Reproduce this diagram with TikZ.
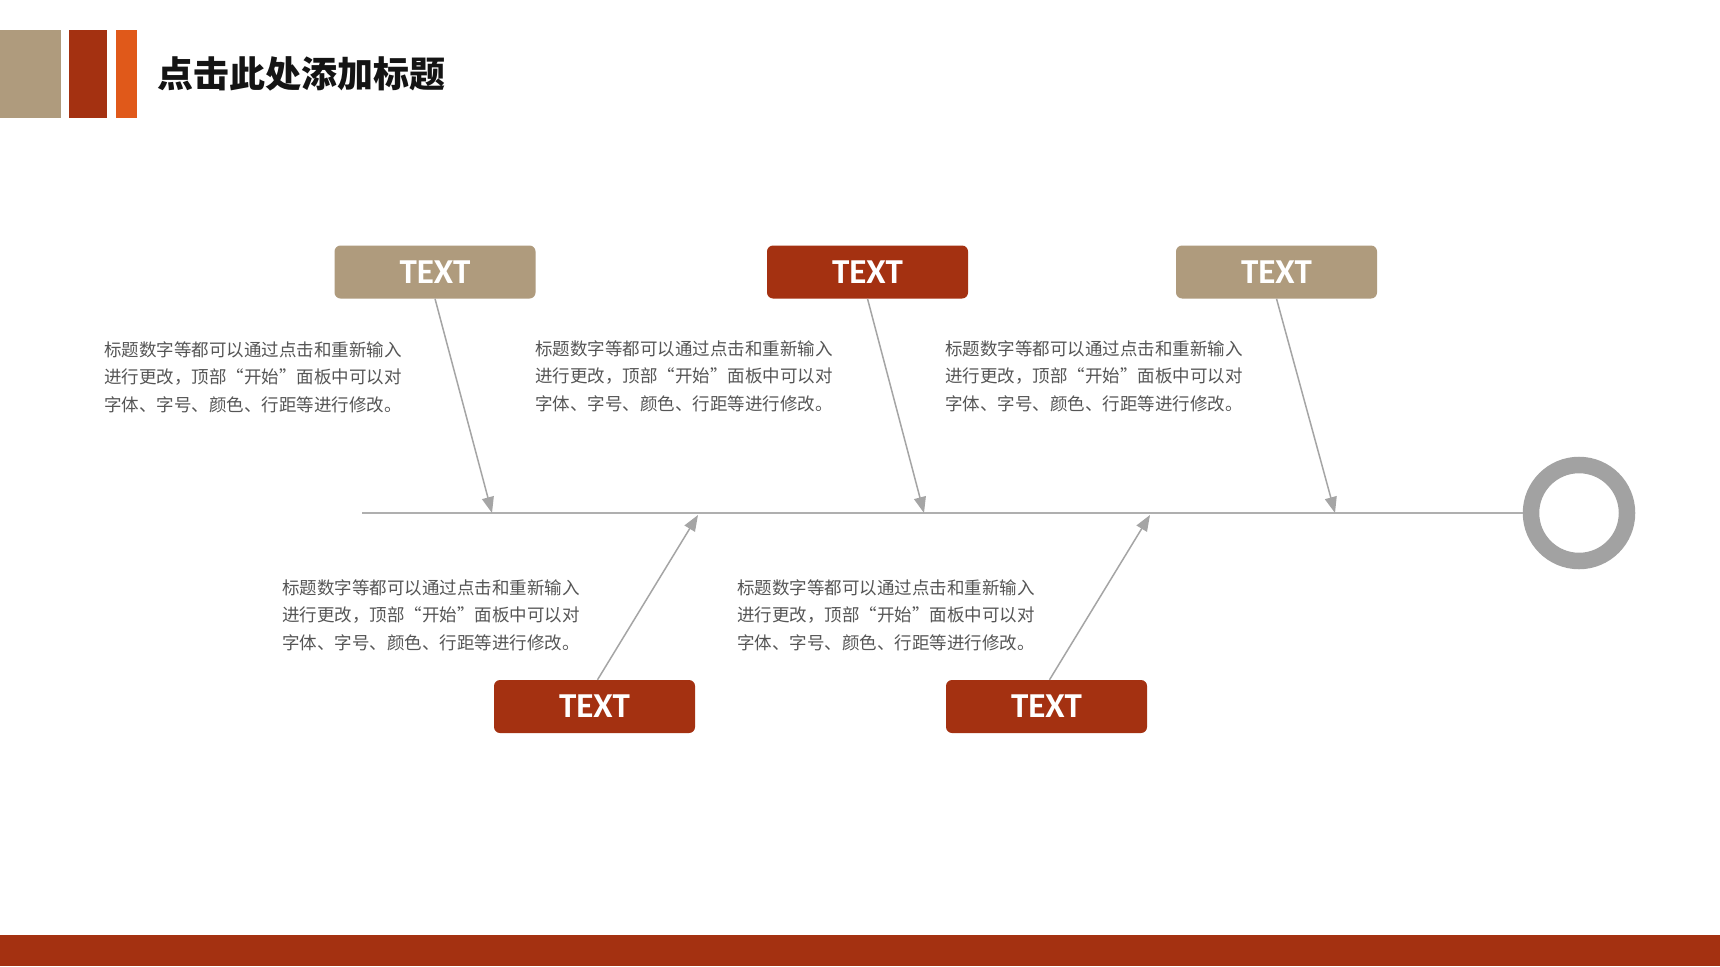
\documentclass[tikz,border=0pt]{standalone}
\usepackage{fontspec}
\newfontfamily\cjk{Noto Sans CJK SC}
\newfontfamily\labfont{Carlito}
\usetikzlibrary{arrows.meta}
\definecolor{mytan}{RGB}{175,155,125}
\definecolor{myred}{RGB}{164,49,17}
\definecolor{myorange}{RGB}{224,89,26}
\definecolor{spinegray}{RGB}{175,175,175}
\definecolor{arrowgray}{RGB}{165,165,165}
\definecolor{ringgray}{RGB}{162,162,162}
\definecolor{bodytext}{RGB}{85,85,85}
\tikzset{
  labelbox/.style={rounded corners=6pt, minimum width=201pt, minimum height=53pt, inner sep=0pt,
    text=white, font=\labfont\bfseries\fontsize{35}{35}\selectfont},
  tanbox/.style={labelbox, fill=mytan},
  redbox/.style={labelbox, fill=myred},
  paraline/.style={anchor=base west, inner sep=0pt, text=bodytext, font=\cjk\fontsize{17.5}{27.5}\selectfont},
  bone/.style={draw=arrowgray, line width=1.5pt, -{Triangle[length=16pt,width=12pt]}},
}
\newcommand\fishpara[4]{%
  \node[paraline] (#1a) at (#2,#3) {标题数字等都可以通过点击和重新输入};
  \node[paraline] (#1b) at (#2,#3+27.5) {进行更改，顶部“开始”面板中可以对};
  \node[paraline] (#1c) at (#2,#3+55) {字体、字号、颜色、行距等进行修改。};
}
\begin{document}
\begin{tikzpicture}[x=1pt,y=-1pt]
\path[use as bounding box, fill=white] (0,0) rectangle (1720,966);
% header
\fill[mytan] (0,30) rectangle (61,118);
\fill[myred] (69,30) rectangle (107,118);
\fill[myorange] (116,30) rectangle (137,118);
\node[anchor=base west, inner sep=0pt, text={rgb,255:red,20;green,20;blue,20}, font=\cjk\bfseries\fontsize{36}{36}\selectfont] (title) at (157,87) {点击此处添加标题};
% bottom bar
\fill[myred] (0,935) rectangle (1720,966);
% spine and head
\node[draw=ringgray, line width=16.5pt, circle, minimum size=96pt, inner sep=0pt] (head) at (1579,513) {};
\coordinate (tail) at (362,513);
\draw[spinegray, line width=2pt] (tail) -- (head.west);
% boxes
\node[tanbox] (b1) at (435,272) {\raisebox{-1pt}{TEXT}};
\node[redbox] (b2) at (867.5,272) {\raisebox{-1pt}{TEXT}};
\node[tanbox] (b3) at (1276.5,272) {\raisebox{-1pt}{TEXT}};
\node[redbox] (b4) at (594.5,706.5) {\raisebox{-1pt}{TEXT}};
\node[redbox] (b5) at (1046.5,706.5) {\raisebox{-1pt}{TEXT}};
% arrow tips on spine
\coordinate (t1) at (492,513);
\coordinate (t2) at (924,513);
\coordinate (t3) at (1335,513);
\coordinate (t4) at (698,515);
\coordinate (t5) at (1150,515);
\draw[bone] (b1.south) -- (t1);
\draw[bone] (b2.south) -- (t2);
\draw[bone] (b3.south) -- (t3);
\draw[bone] ([xshift=3pt]b4.north) -- (t4);
\draw[bone] ([xshift=3pt]b5.north) -- (t5);
% paragraphs
\fishpara{p1}{104}{356}{}
\fishpara{p2}{535}{355}{}
\fishpara{p3}{945}{355}{}
\fishpara{p4}{282}{594}{}
\fishpara{p5}{737}{594}{}
\end{tikzpicture}
\end{document}
